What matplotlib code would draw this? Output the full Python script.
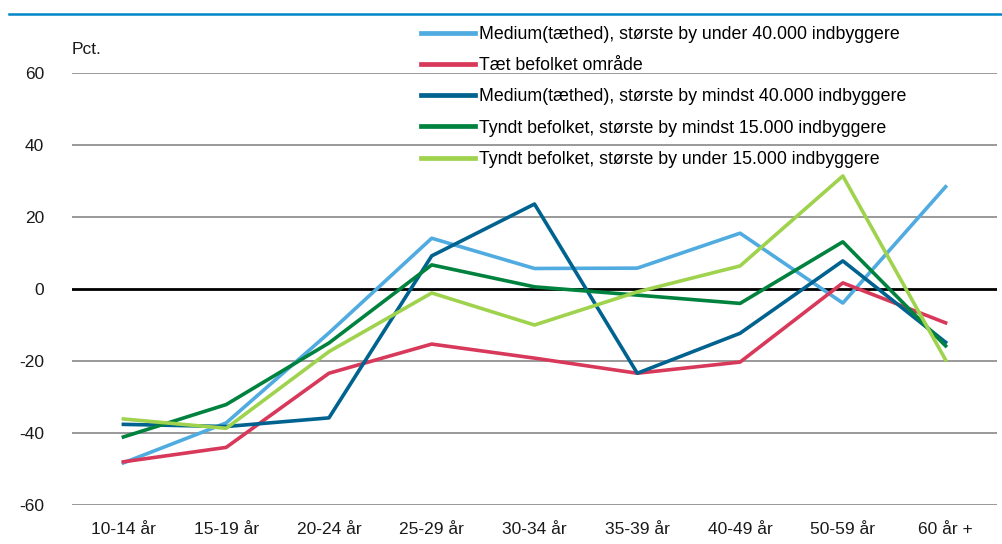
#!/usr/bin/env python3
"""Line chart: change by age group and area type."""
import matplotlib
matplotlib.use('Agg')
import matplotlib.pyplot as plt
from matplotlib.lines import Line2D

plt.rcParams['font.family'] = ['Liberation Sans Narrow', 'Liberation Sans', 'DejaVu Sans']
plt.rcParams['axes.unicode_minus'] = False

categories = ['10-14 år', '15-19 år', '20-24 år', '25-29 år', '30-34 år',
              '35-39 år', '40-49 år', '50-59 år', '60 år +']

medium_under_40k = [-48.3, -37.2, -12.2, 14.1, 5.7, 5.8, 15.5, -3.9, 28.4]
taet_befolket = [-48.0, -44.0, -23.4, -15.3, -19.2, -23.4, -20.3, 1.7, -9.4]
medium_mindst_40k = [-37.6, -38.2, -35.8, 9.2, 23.6, -23.4, -12.3, 7.8, -14.8]
tyndt_mindst_15k = [-41.1, -32.1, -15.0, 6.7, 0.6, -1.7, -4.0, 13.1, -15.8]
tyndt_under_15k = [-36.1, -38.7, -17.4, -1.1, -10.0, -0.8, 6.4, 31.4, -19.7]

series = [
    ('Medium(tæthed), største by under 40.000 indbyggere', medium_under_40k, '#4fabe0'),
    ('Tæt befolket område', taet_befolket, '#d8395a'),
    ('Medium(tæthed), største by mindst 40.000 indbyggere', medium_mindst_40k, '#00628f'),
    ('Tyndt befolket, største by mindst 15.000 indbyggere', tyndt_mindst_15k, '#00823f'),
    ('Tyndt befolket, største by under 15.000 indbyggere', tyndt_under_15k, '#9fd24d'),
]

fig = plt.figure(figsize=(10.02, 5.44), dpi=100)
ax = fig.add_axes([72 / 1002, 39 / 544, 925 / 1002, 432 / 544])

x = range(len(categories))
handles = []
for label, vals, color in series:
    ax.plot(x, vals, color=color, linewidth=2.6, zorder=3)
    handles.append(Line2D([], [], color=color, linewidth=3.4, label=label))

ax.set_xlim(-0.5, len(categories) - 0.5)
ax.set_ylim(-60, 60)
ax.set_yticks([-60, -40, -20, 0, 20, 40, 60])
ax.set_xticks(list(x))
ax.set_xticklabels(categories)
for yv in [-60, -40, -20, 20, 40, 60]:
    ax.axhline(yv, color='#999999', linewidth=1.4, zorder=1)
ax.axhline(0, color='black', linewidth=2.0, zorder=2)

for s in ax.spines.values():
    s.set_visible(False)
ax.tick_params(axis='both', length=0, labelsize=12.5, colors='#1a1a1a')
ax.tick_params(axis='y', pad=20)
ax.tick_params(axis='x', pad=12)

fig.text(72 / 1002, 1 - 50 / 544, 'Pct.', fontsize=12.5, color='#1a1a1a', va='center')

leg = fig.legend(handles=handles, loc='upper left', bbox_to_anchor=(421 / 1002, 1 - 26 / 544),
                 frameon=False, fontsize=12.8, handlelength=3.05, handletextpad=0.2,
                 labelspacing=0.8, borderaxespad=0, borderpad=0)

# blue rule across the top
fig.add_artist(Line2D([9 / 1002, 1.0], [1 - 14 / 544, 1 - 14 / 544], color='#0086c8',
                      linewidth=1.8, transform=fig.transFigure))

fig.savefig('out.png', dpi=100)
